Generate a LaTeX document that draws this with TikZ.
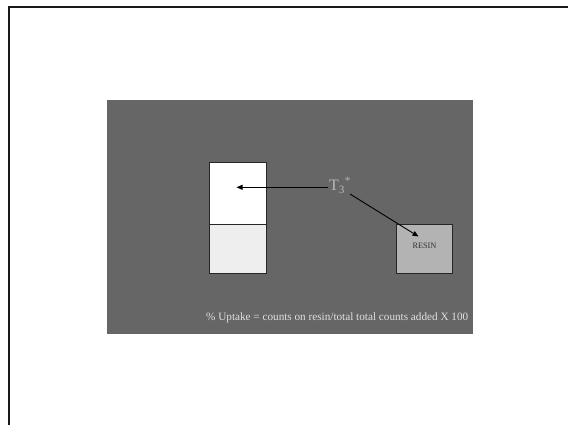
\documentclass[tikz,border=0pt]{standalone}
\usepackage{fontspec}
\setmainfont{Liberation Serif}
\usetikzlibrary{arrows.meta}
\definecolor{slidegray}{HTML}{666666}
\definecolor{resingray}{HTML}{B3B3B3}
\definecolor{lowergray}{HTML}{EEEEEE}
\definecolor{labelgray}{HTML}{B8B8B8}
\tikzset{
  box/.style={draw=black!85, line width=0.9pt, inner sep=0pt, anchor=center},
  pointer/.style={draw=black, line width=0.9pt, -{Triangle[length=6pt,width=5pt]}},
}
\begin{document}
\begin{tikzpicture}[x=1pt,y=-1pt]
  \useasboundingbox (0,0) rectangle (568,424);
  \fill[white] (0,0) rectangle (568,424);
  % outer frame running off the right and bottom
  \draw[line width=2pt, black!90] (8.5,430) -- (8.5,7) -- (575,7);
  % slide background
  \fill[slidegray] (107,100) rectangle (473,334);
  % column: upper and lower parts
  \node[box, fill=white, minimum width=56.3pt, minimum height=62.7pt] (upper) at (237.9,193.4) {};
  \node[box, fill=lowergray, minimum width=56.3pt, minimum height=48.3pt] (lower) at (237.9,248.8) {};
  % resin box
  \node[box, fill=resingray, minimum width=56pt, minimum height=49.4pt] (resin) at (424.7,249) {};
  \node[font=\fontsize{8.3}{9}\selectfont, text=black!80] (resinlabel) at (424.5,245.5) {RESIN};
  % tracer label
  \node[text=labelgray, font=\fontsize{16}{18}\selectfont, inner sep=1pt] (t3) at (340,185) {T\textsubscript{3}\textsuperscript{*}};
  \coordinate (upperpt) at (236.5,187.3);
  \coordinate (t3out) at (350,194);
  \coordinate (resinpt) at (418.5,236.5);
  \draw[pointer] (t3.west |- upperpt) -- (upperpt);
  \draw[pointer] (t3out) -- (resinpt);
  % formula
  \node[text=white!88!black, font=\fontsize{11.2}{13}\selectfont, anchor=west, inner sep=0pt] (formula) at (206,318) {\% Uptake = counts on resin/total total counts added X 100};
\end{tikzpicture}
\end{document}
